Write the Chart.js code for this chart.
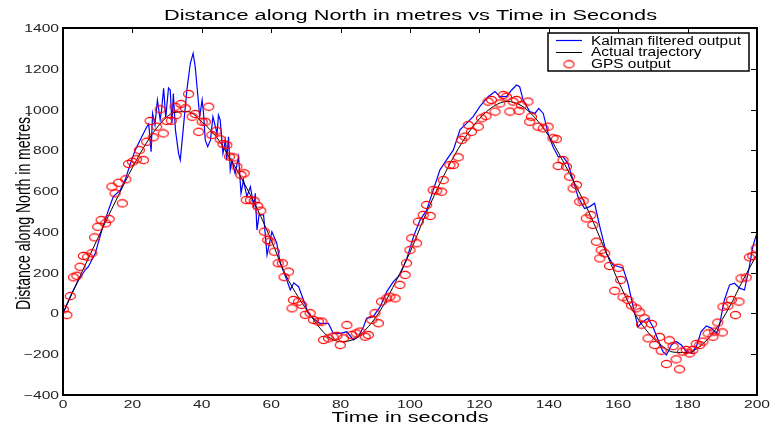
<!DOCTYPE html>
<html>
<head>
<meta charset="utf-8">
<script src="https://cdn.jsdelivr.net/npm/chart.js@4.4.1/dist/chart.umd.min.js"></script>
<style>
html, body { margin: 0; padding: 0; background: #fff; }
</style>
</head>
<body>
<canvas id="myChart" width="772" height="430"></canvas>
<script>
const chartTitle = 'Distance along North in metres vs Time in Seconds';
const xTitle = 'Time in seconds';
const yTitle = 'Distance along North in metres.';
const legendLabels = ['Kalman filtered output', 'Actual trajectory', 'GPS output'];
const xTicks = [0, 20, 40, 60, 80, 100, 120, 140, 160, 180, 200];
const yTicks = [-400, -200, 0, 200, 400, 600, 800, 1000, 1200, 1400];

// actual trajectory (black)
const actualTime = [0, 4, 8, 12, 16, 20, 24, 28, 32, 36, 40, 44, 48, 52, 56, 60, 64, 68, 72, 76, 80,
  84, 88, 92, 96, 100, 104, 108, 112, 116, 120, 124, 128, 132, 136, 140, 144, 148, 152, 156, 160,
  164, 168, 172, 176, 180, 184, 188, 192, 196, 200];
const actualDist = [0, 150, 295, 440, 580, 715, 835, 930, 985, 990, 940, 870, 765, 645, 512, 360, 195, 75, -25, -108, -138,
  -125, -65, 30, 160, 300, 465, 615, 750, 865, 955, 1015, 1040, 1020, 960, 870, 750, 620, 480, 320, 160,
  20, -80, -150, -190, -192, -155, -80, 30, 165, 290];

// Kalman filtered output (blue)
const kalmanTime = [0, 1, 2.5, 4.5, 6.4, 7.3, 9.3, 11.2, 13.1, 14.5, 16.5, 17.9, 19.3, 20.8, 22.7, 24.1, 24.7, 25.4,
  25.8, 26.5, 27.2, 28.0, 28.4, 29.0, 29.6, 30.4, 30.9, 31.4, 31.8, 32.4, 33.3, 33.8, 34.8, 35.7, 36.7, 37.5,
  38.1, 38.8, 39.4, 40.1, 40.5, 41.0, 41.7, 42.5, 43.2, 44.4, 44.8, 45.3, 46.1, 46.8, 47.2, 47.7, 48.2, 48.7,
  49.6, 50.6, 51.3, 52.0, 53.0, 54.0, 55.0, 55.4, 55.9, 56.5, 57.8, 58.8, 60.2, 61.6, 62.6, 64.5, 65.5, 66.5,
  67.9, 69.3, 70.7, 72.2, 74.1, 76.5, 77.9, 79.9, 81.8, 83.7, 85.1, 86.6, 87.5, 89.4, 91.4, 93.3, 95.2, 97.1,
  99.1, 101.0, 102.9, 104.8, 106.7, 108.6, 110.5, 112.5, 114.4, 116.3, 118.2, 120.1, 122.5, 124.5, 125.9, 127.8,
  129.3, 130.7, 131.6, 132.6, 134.5, 136.0, 137.1, 138.4, 139.8, 141.2, 142.7, 144.1, 145.5, 147.0, 148.4, 150.3,
  151.8, 153.2, 154.7, 156.6, 158.5, 160.0, 161.4, 162.8, 164.3, 165.7, 167.1, 168.6, 170.0, 171.5, 172.9, 173.9,
  175.3, 176.7, 178.2, 179.6, 181.1, 182.5, 183.9, 185.4, 186.8, 188.3, 189.2, 190.6, 192.1, 193.5, 195.0, 196.4,
  197.8, 198.8, 199.8];
const kalmanDist = [0, 40, 98, 164, 213, 229, 295, 409, 507, 573, 605, 654, 728, 801, 867, 913, 930, 793,
  981, 924, 1047, 950, 998, 1104, 960, 1106, 1096, 932, 1079, 900, 785, 752, 932, 1096, 1227, 1276,
  1210, 1079, 965, 1047, 981, 850, 818, 850, 965, 883, 973, 949, 785, 850, 752, 867, 703, 752,
  687, 769, 589, 654, 573, 622, 524, 589, 409, 483, 483, 287, 401, 345, 247, 164, 115, 150,
  131, 66, 0, -25, -49, -49, -98, -98, -90, -130, -115, -65, -24, -16, 33, 107, 156, 189,
  270, 377, 458, 507, 605, 703, 752, 802, 900, 932, 965, 1014, 1063, 1088, 1063, 1063,
  1096, 1120, 1112, 1047, 990, 981, 1006, 981, 883, 818, 769, 769, 736, 654, 573, 515,
  524, 540, 426, 295, 238, 230, 222, 148, 33, -65, -40, -24, -65, -130, -187, -204,
  -155, -138, -155, -187, -195, -163, -89, -61, -72, -97, -56, 66, 140, 148, 124, 115,
  230, 328, 385];

// GPS output (red circles)
const gpsTime = [0.1, 1.1, 2.1, 3.0, 4.0, 4.9, 5.9, 7.1, 8.3, 9.1, 10.0, 11.0, 12.3, 13.3, 14.1, 15.0, 16.0, 17.1,
  18.1, 18.9, 20.0, 21.2, 22.0, 23.2, 24.1, 25.1, 26.0, 27.0, 28.0, 28.9, 29.9, 31.2, 32.3, 32.6, 34.0, 35.3,
  36.2, 37.2, 38.1, 39.1, 40.1, 41.0, 42.0, 42.9, 44.2, 45.3, 46.1, 47.2, 48.0, 49.2, 50.1, 51.3, 52.2, 52.8,
  54.0, 55.1, 56.1, 57.0, 58.0, 59.0, 59.7, 60.9, 62.0, 63.2, 63.7, 65.0, 66.0, 66.4, 67.9, 68.8, 69.8, 71.2,
  72.2, 73.6, 74.6, 75.1, 76.5, 77.8, 78.9, 79.9, 80.8, 81.8, 83.2, 84.5, 85.6, 87.1, 88.0, 89.0, 89.9, 90.9,
  91.8, 93.3, 94.2, 95.7, 97.1, 98.6, 99.0, 100.0, 100.5, 101.9, 102.4, 103.8, 104.8, 105.8, 106.7, 107.7,
  109.1, 109.6, 111.5, 112.5, 113.9, 114.9, 115.8, 116.8, 117.7, 119.7, 120.6, 121.9, 122.5, 123.5, 124.5,
  125.9, 126.9, 127.8, 128.8, 129.7, 130.7, 131.4, 132.1, 134.0, 134.5, 135.0, 136.9, 138.4, 139.8, 141.2,
  142.2, 142.7, 144.1, 145.1, 146.0, 147.0, 148.0, 148.9, 149.9, 150.8, 152.1, 152.7, 153.7, 154.7, 155.1,
  156.1, 157.5, 159.0, 160.0, 160.7, 161.4, 162.8, 163.8, 165.2, 166.2, 166.7, 167.6, 168.6, 169.6, 170.5,
  171.9, 172.4, 173.9, 174.8, 175.8, 176.7, 177.7, 178.5, 179.6, 180.6, 181.5, 182.5, 183.5, 184.4, 185.9,
  187.3, 187.8, 188.7, 190.0, 190.2, 191.6, 192.6, 193.8, 194.8, 195.4, 196.9, 197.8, 198.8, 199.8];
const gpsDist = [20, -8, 85, 177, 185, 229, 282, 278, 295, 373, 425, 458, 442, 463, 622, 589, 641, 540,
  658, 733, 744, 756, 801, 752, 842, 944, 864, 916, 1001, 883, 944, 945, 1014, 973, 1027, 1006,
  1076, 965, 978, 891, 940, 940, 1014, 875, 896, 854, 831, 826, 769, 765, 720, 679, 687, 556,
  556, 553, 527, 504, 401, 360, 352, 303, 246, 246, 178, 205, 25, 66, 58, 42, -7, 1,
  -32, -40, -40, -130, -122, -114, -110, -155, -122, -57, -106, -98, -89, -114, -106, -32, 1, -48,
  58, 74, 82, 74, 140, 189, 246, 311, 369, 344, 450, 483, 532, 478, 605, 602,
  597, 654, 728, 728, 766, 851, 867, 924, 891, 916, 957, 968, 1039, 1047, 990,
  1030, 1071, 1063, 990, 1039, 1047, 994, 1022, 1039, 940, 965, 916, 908, 916, 859,
  855, 723, 752, 720, 671, 613, 630, 548, 553, 466, 483, 434, 352, 270, 311,
  295, 233, 111, 224, 164, 80, 66, 39, 25, 6, -55, -24, -122, -52, -155,
  -115, -183, -248, -132, -160, -225, -274, -187, -179, -196, -179, -150, -155, -138, -98,
  -114, -89, -45, -93, 33, 37, 66, -8, 58, 172, 176, 275, 282, 319];

const FONT = '"Liberation Sans", Arial, Helvetica, sans-serif';

function toPoints(t, d) {
    return t.map((v, i) => ({ x: v, y: d[i] }));
}

// red open ellipse like the matlab 'o' marker
const marker = document.createElement('canvas');
marker.width = 13;
marker.height = 10;
const mctx = marker.getContext('2d');
mctx.strokeStyle = '#ff0000';
mctx.lineWidth = 1.1;
mctx.beginPath();
mctx.ellipse(6.5, 5, 5, 3.6, 0, 0, Math.PI * 2);
mctx.stroke();

// text is wider than normal in the picture, so stretch it horizontally
function wideText(ctx, txt, x, y, size, align, sx) {
    ctx.save();
    ctx.font = size + 'px ' + FONT;
    ctx.textAlign = align;
    ctx.translate(x, y);
    ctx.scale(sx, 1);
    ctx.fillText(txt, 0, 0);
    ctx.restore();
}

function fitText(ctx, txt, cx, y, size, width) {
    ctx.font = size + 'px ' + FONT;
    const w = ctx.measureText(txt).width;
    wideText(ctx, txt, cx, y, size, 'center', width / w);
}

const matlabFrame = {
    id: 'matlabFrame',
    afterDraw(chart) {
        const ctx = chart.ctx;
        const a = chart.chartArea;
        const x = chart.scales.x;
        const y = chart.scales.y;
        ctx.save();
        ctx.fillStyle = '#000';
        ctx.strokeStyle = '#000';

        // box
        ctx.lineWidth = 2;
        ctx.strokeRect(a.left, a.top, a.right - a.left, a.bottom - a.top);

        // inward ticks on top and right
        ctx.lineWidth = 1;
        ctx.beginPath();
        xTicks.slice(1, -1).forEach(v => {
            const px = Math.round(x.getPixelForValue(v)) + 0.5;
            ctx.moveTo(px, a.top);
            ctx.lineTo(px, a.top + 5);
        });
        yTicks.slice(1, -1).forEach(v => {
            const py = Math.round(y.getPixelForValue(v)) + 0.5;
            ctx.moveTo(a.right, py);
            ctx.lineTo(a.right - 6, py);
        });
        ctx.stroke();

        // tick labels
        ctx.fillStyle = '#222';
        xTicks.forEach(v => {
            wideText(ctx, String(v), x.getPixelForValue(v), a.bottom + 12.5, 11, 'center', 1.42);
        });
        yTicks.forEach(v => {
            const s = v < 0 ? '\u2212' + Math.abs(v) : String(v);
            wideText(ctx, s, a.left - 4, y.getPixelForValue(v) + 4, 11, 'right', 1.42);
        });

        // titles
        ctx.fillStyle = '#000';
        fitText(ctx, chartTitle, 410.5, 20, 14, 493);
        fitText(ctx, xTitle, 410, 421.5, 15, 157);
        ctx.save();
        ctx.font = '14px ' + FONT;
        const yw = ctx.measureText(yTitle).width;
        ctx.translate(29.5, 211.5);
        ctx.scale(1.45, 1);
        ctx.rotate(-Math.PI / 2);
        ctx.scale(197 / yw, 1);
        ctx.textAlign = 'center';
        ctx.fillText(yTitle, 0, 0);
        ctx.restore();

        // legend
        const lx = 548, ly = 33, lw = 201, lh = 38;
        ctx.fillStyle = '#fff';
        ctx.fillRect(lx, ly, lw, lh);
        ctx.lineWidth = 1.5;
        ctx.strokeStyle = '#000';
        ctx.strokeRect(lx, ly, lw, lh);
        ctx.lineWidth = 1.2;
        ctx.strokeStyle = '#0000ff';
        ctx.beginPath(); ctx.moveTo(556, 40.5); ctx.lineTo(582, 40.5); ctx.stroke();
        ctx.lineWidth = 1;
        ctx.strokeStyle = '#000';
        ctx.beginPath(); ctx.moveTo(556, 52.5); ctx.lineTo(582, 52.5); ctx.stroke();
        ctx.drawImage(marker, 569 - 6.5, 64.3 - 5);
        ctx.fillStyle = '#000';
        ctx.font = '12px ' + FONT;
        const sx = 150 / ctx.measureText(legendLabels[0]).width;
        wideText(ctx, legendLabels[0], 591, 44.5, 12, 'left', sx);
        wideText(ctx, legendLabels[1], 591, 56.3, 12, 'left', sx);
        wideText(ctx, legendLabels[2], 591, 68.2, 12, 'left', sx);
        ctx.restore();
    }
};

const chart = new Chart(document.getElementById('myChart'), {
    type: 'scatter',
    data: {
        datasets: [{
            label: legendLabels[2],
            data: toPoints(gpsTime, gpsDist),
            showLine: false,
            pointStyle: marker,
            pointRadius: 5,
            order: 0
        }, {
            label: legendLabels[1],
            data: toPoints(actualTime, actualDist),
            showLine: true,
            borderColor: '#000000',
            borderWidth: 1,
            pointRadius: 0,
            cubicInterpolationMode: 'monotone',
            order: 1
        }, {
            label: legendLabels[0],
            data: toPoints(kalmanTime, kalmanDist),
            showLine: true,
            borderColor: '#0000ff',
            borderWidth: 1.2,
            pointRadius: 0,
            tension: 0,
            order: 2
        }]
    },
    options: {
        responsive: false,
        animation: false,
        devicePixelRatio: 1,
        layout: { padding: { left: 63, right: 15, top: 28, bottom: 35 } },
        plugins: {
            legend: { display: false },
            title: { display: false },
            tooltip: { enabled: false }
        },
        scales: {
            x: { type: 'linear', min: 0, max: 200, display: false },
            y: { type: 'linear', min: -400, max: 1400, display: false }
        }
    },
    plugins: [matlabFrame]
});
</script>
</body>
</html>
